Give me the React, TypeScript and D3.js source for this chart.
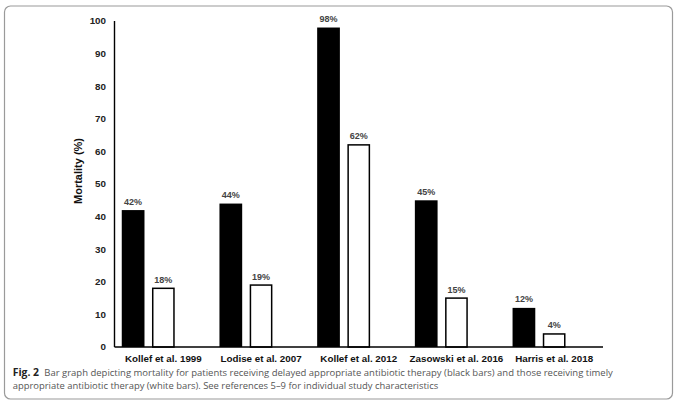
import React from "react";
import * as d3 from "d3";

const studies = ["Kollef et al. 1999", "Lodise et al. 2007", "Kollef et al. 2012", "Zasowski et al. 2016", "Harris et al. 2018"];
const delayed = [42, 44, 98, 45, 12];
const timely = [18, 19, 62, 15, 4];
const yTicks = [0, 10, 20, 30, 40, 50, 60, 70, 80, 90, 100];
const captionLabel = "Fig. 2";
const captionLine1 = "Bar graph depicting mortality for patients receiving delayed appropriate antibiotic therapy (black bars) and those receiving timely";
const captionLine2 = "appropriate antibiotic therapy (white bars). See references 5–9 for individual study characteristics";

const W = 680;
const H = 414;
const plot = { left: 114.5, right: 603, top: 21, bottom: 347 };

export default function App() {
  const x0 = d3.scaleBand<string>().domain(studies).range([plot.left, plot.right]).paddingInner(0).paddingOuter(0);
  const x1 = d3
    .scaleBand<string>()
    .domain(["delayed", "timely", "other"])
    .range([0, x0.bandwidth()])
    .paddingInner(0.248)
    .paddingOuter(0.24);
  const y = d3.scaleLinear().domain([0, 100]).range([plot.bottom, plot.top]);
  const bw = x1.bandwidth();
  const font = "'Liberation Sans', Arial, sans-serif";

  return (
    <div>
      <style>{"body{margin:0}"}</style>
      <svg width={W} height={H} viewBox={`0 0 ${W} ${H}`} style={{ display: "block", background: "#fff" }}>
        <rect x={4.5} y={6} width={668} height={393} rx={6} ry={6} fill="#fff" stroke="#9a9a9a" strokeWidth={1.2} />
        {/* bars */}
        {studies.map((s, i) => {
          const gx = x0(s)!;
          const xd = gx + x1("delayed")!;
          const xt = gx + x1("timely")!;
          return (
            <g key={s}>
              <rect x={xd} y={y(delayed[i])} width={bw} height={y(0) - y(delayed[i])} fill="#000" />
              <rect
                x={xt + 0.75}
                y={y(timely[i])}
                width={bw - 1.5}
                height={y(0) - y(timely[i])}
                fill="#fff"
                stroke="#000"
                strokeWidth={1.5}
              />
              <text x={xd + bw / 2} y={y(delayed[i]) - 5.5} textAnchor="middle" fontFamily={font} fontWeight="bold" fontSize={9} fill="#444">
                {delayed[i]}%
              </text>
              <text x={xt + bw / 2} y={y(timely[i]) - 5.5} textAnchor="middle" fontFamily={font} fontWeight="bold" fontSize={9} fill="#444">
                {timely[i]}%
              </text>
              <text x={gx + x0.bandwidth() / 2} y={361.5} textAnchor="middle" fontFamily={font} fontWeight="bold" fontSize={9.8} fill="#111">
                {s}
              </text>
            </g>
          );
        })}
        {/* axes */}
        <line x1={plot.left} x2={plot.left} y1={plot.top} y2={plot.bottom} stroke="#000" strokeWidth={1.4} />
        <line x1={plot.left} x2={plot.right} y1={plot.bottom} y2={plot.bottom} stroke="#000" strokeWidth={1.4} />
        {yTicks.map((t) => (
          <text key={t} x={106} y={y(t)} dy="0.35em" textAnchor="end" fontFamily={font} fontWeight="bold" fontSize={9.8} fill="#222">
            {t}
          </text>
        ))}
        <text
          transform={`translate(82,171) rotate(-90)`}
          textAnchor="middle"
          fontFamily={font}
          fontWeight="bold"
          fontSize={11}
          fill="#111"
        >
          Mortality (%)
        </text>
        {/* caption */}
        <text x={12.7} y={375.5} fontFamily="'Open Sans', 'Noto Sans', sans-serif" fontWeight="bold" fontSize={9.8} fill="#222" textLength={26.3} lengthAdjust="spacingAndGlyphs">
          {captionLabel}
        </text>
        <text x={44.3} y={375.5} fontFamily="'Open Sans', 'Noto Sans', sans-serif" fontSize={9.8} fill="#555" textLength={568.5} lengthAdjust="spacingAndGlyphs">
          {captionLine1}
        </text>
        <text x={12.7} y={388.7} fontFamily="'Open Sans', 'Noto Sans', sans-serif" fontSize={9.8} fill="#555" textLength={425.5} lengthAdjust="spacingAndGlyphs">
          {captionLine2}
        </text>
      </svg>
    </div>
  );
}
